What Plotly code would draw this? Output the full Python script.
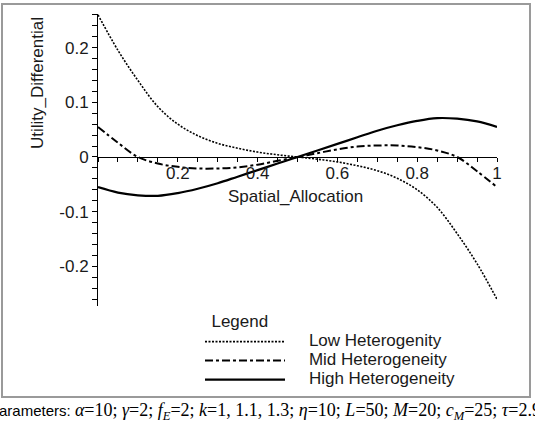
import plotly.graph_objects as go

# ---- data ----
x_alloc = [0.0, 0.05, 0.1, 0.15, 0.2, 0.25, 0.3, 0.35, 0.4, 0.45, 0.5,
           0.55, 0.6, 0.65, 0.7, 0.75, 0.8, 0.85, 0.9, 0.95, 1.0]
low_het = [0.26, 0.195, 0.14, 0.092, 0.060, 0.039, 0.025, 0.016, 0.009, 0.004, 0.0,
           -0.004, -0.009, -0.016, -0.025, -0.039, -0.060, -0.092, -0.14, -0.195, -0.26]
mid_het = [0.055, 0.026, 0.0, -0.012, -0.018, -0.021, -0.021, -0.019, -0.014, -0.007, 0.0,
           0.007, 0.014, 0.019, 0.021, 0.021, 0.018, 0.012, 0.0, -0.026, -0.055]
high_het = [-0.055, -0.065, -0.070, -0.071, -0.066, -0.058, -0.048, -0.036, -0.024, -0.012, 0.0,
            0.012, 0.024, 0.036, 0.048, 0.058, 0.066, 0.071, 0.070, 0.065, 0.055]
series_names = ["Low Heterogenity", "Mid Heterogeneity", "High Heterogeneity"]
x_tickvals = [0.2, 0.4, 0.6, 0.8, 1.0]
x_ticktext = ["0.2", "0.4", "0.6", "0.8", "1"]
y_tickvals = [-0.2, -0.1, 0.0, 0.1, 0.2]
y_ticktext = ["-0.2", "-0.1", "0", "0.1", "0.2"]

W, H = 535, 425
L, R, T, B = 98, 38, 14, 119
PW, PH = W - L - R, H - T - B
YMIN, YMAX = -0.2724, 0.2614


def px_x(p):
    return (p - L) / PW


def px_y(p):
    return (T + PH - p) / PH


FONT = "Liberation Sans, Arial, sans-serif"
TXT = "#1a1a1a"

fig = go.Figure()
styles = [dict(dash="2px,1.5px", width=1.6),
          dict(dash="8px,3px,3px,3px", width=2.0),
          dict(dash="solid", width=2.2)]
for name, ys, st in zip(series_names, [low_het, mid_het, high_het], styles):
    fig.add_trace(go.Scatter(
        x=x_alloc, y=ys, mode="lines", line_shape="spline",
        name='<span style="font-size:17px">&nbsp;&nbsp;&nbsp;&nbsp;' + name + '</span>',
        line=dict(color="black", **st)))

fig.update_layout(
    width=W, height=H,
    margin=dict(l=L, r=R, t=T, b=B),
    paper_bgcolor="white", plot_bgcolor="white",
    font=dict(family=FONT, size=17, color=TXT),
    showlegend=True,
    legend=dict(
        x=px_x(200), y=px_y(305), xanchor="left", yanchor="top",
        bgcolor="rgba(0,0,0,0)", borderwidth=0,
        font=dict(family=FONT, size=12, color=TXT),
        title=dict(text="&nbsp;&nbsp;Legend", font=dict(family=FONT, size=17, color=TXT)),
        itemwidth=80, tracegroupgap=0,
    ),
    xaxis=dict(
        range=[0, 1], anchor="free", position=(0 - YMIN) / (YMAX - YMIN),
        showline=True, linecolor="black", linewidth=1,
        showgrid=False, zeroline=False,
        tickvals=x_tickvals, ticktext=x_ticktext,
        ticks="outside", ticklen=4, tickcolor="black",
        ticklabelstandoff=-3,
        minor=dict(dtick=0.05, tick0=0, ticks="outside", ticklen=4, tickcolor="black", showgrid=False),
        tickfont=dict(family=FONT, size=17, color=TXT),
    ),
    yaxis=dict(
        range=[YMIN, YMAX],
        showline=True, linecolor="black", linewidth=1,
        showgrid=False, zeroline=False,
        tickvals=y_tickvals, ticktext=y_ticktext,
        ticks="outside", ticklen=5, tickcolor="black",
        minor=dict(dtick=0.02, tick0=0, ticks="outside", ticklen=5, tickcolor="black", showgrid=False),
        tickfont=dict(family=FONT, size=17, color=TXT),
    ),
)

fig.add_shape(type="rect", xref="paper", yref="paper",
              x0=px_x(2), x1=px_x(530), y0=px_y(397), y1=px_y(4),
              line=dict(color="#9a9a9a", width=2), layer="below")

fig.add_annotation(text="Utility_Differential", textangle=-90, showarrow=False,
                   xref="paper", yref="paper", x=px_x(38), y=px_y(83),
                   xanchor="center", yanchor="middle",
                   font=dict(family=FONT, size=17, color=TXT))
fig.add_annotation(text="Spatial_Allocation", showarrow=False,
                   xref="paper", yref="paper", x=px_x(295), y=px_y(196),
                   xanchor="center", yanchor="middle",
                   font=dict(family=FONT, size=17, color=TXT))

serif = 'font-family:Liberation Serif, Times New Roman, serif; font-size:18px'
bottom = ('Parameters: <span style="' + serif + '">'
          '<i>α</i>=10; <i>γ</i>=2; <i>f</i><sub><i>E</i></sub>=2; <i>k</i>=1, 1.1, 1.3; '
          '<i>η</i>=10; <i>L</i>=50; <i>M</i>=20; <i>c</i><sub><i>M</i></sub>=25; <i>τ</i>=2.9</span>')
fig.add_annotation(text=bottom, showarrow=False, xref="paper", yref="paper",
                   x=px_x(-13), y=px_y(411), xanchor="left", yanchor="middle",
                   font=dict(family=FONT, size=15, color="black"))

fig.write_html("out.html")
